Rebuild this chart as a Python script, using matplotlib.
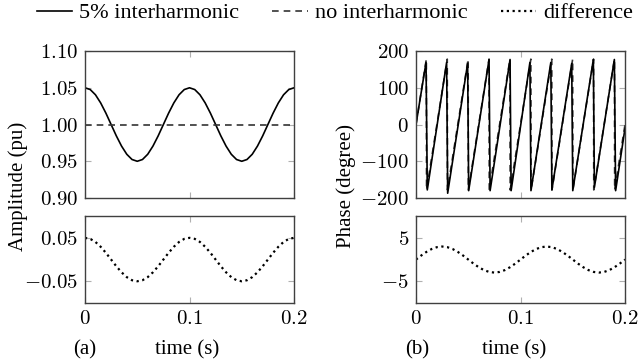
import matplotlib.pyplot as plt
from matplotlib.lines import Line2D
from matplotlib.ticker import FuncFormatter

plt.rcParams['font.family'] = ['Liberation Serif', 'DejaVu Serif']
plt.rcParams['mathtext.fontset'] = 'cm'

# difference curves, sampled every 5 ms
t_diff = [0.000, 0.005, 0.010, 0.015, 0.020, 0.025, 0.030, 0.035, 0.040, 0.045,
          0.050, 0.055, 0.060, 0.065, 0.070, 0.075, 0.080, 0.085, 0.090, 0.095,
          0.100, 0.105, 0.110, 0.115, 0.120, 0.125, 0.130, 0.135, 0.140, 0.145,
          0.150, 0.155, 0.160, 0.165, 0.170, 0.175, 0.180, 0.185, 0.190, 0.195,
          0.200]
amp_diff = [0.050, 0.0476, 0.0405, 0.0294, 0.0155, 0.000, -0.0155, -0.0294, -0.0405, -0.0476,
            -0.050, -0.0476, -0.0405, -0.0294, -0.0155, 0.000, 0.0155, 0.0294, 0.0405, 0.0476,
            0.050, 0.0476, 0.0405, 0.0294, 0.0155, 0.000, -0.0155, -0.0294, -0.0405, -0.0476,
            -0.050, -0.0476, -0.0405, -0.0294, -0.0155, 0.000, 0.0155, 0.0294, 0.0405, 0.0476,
            0.050]
amp_inter = [1.050, 1.0476, 1.0405, 1.0294, 1.0155, 1.000, 0.9845, 0.9706, 0.9595, 0.9524,
             0.950, 0.9524, 0.9595, 0.9706, 0.9845, 1.000, 1.0155, 1.0294, 1.0405, 1.0476,
             1.050, 1.0476, 1.0405, 1.0294, 1.0155, 1.000, 0.9845, 0.9706, 0.9595, 0.9524,
             0.950, 0.9524, 0.9595, 0.9706, 0.9845, 1.000, 1.0155, 1.0294, 1.0405, 1.0476,
             1.050]
t_flat = [0.0, 0.2]
amp_flat = [1.0, 1.0]
phase_diff = [0.0, 0.93, 1.76, 2.43, 2.85, 3.0, 2.85, 2.43, 1.76, 0.93,
              0.0, -0.93, -1.76, -2.43, -2.85, -3.0, -2.85, -2.43, -1.76, -0.93,
              0.0, 0.93, 1.76, 2.43, 2.85, 3.0, 2.85, 2.43, 1.76, 0.93,
              0.0, -0.93, -1.76, -2.43, -2.85, -3.0, -2.85, -2.43, -1.76, -0.93,
              0.0]

# phase sawtooth corners
t_ph = [0.0, 0.0096, 0.0108, 0.0293, 0.0303, 0.0494, 0.0504, 0.0699, 0.0709, 0.0900,
        0.0910, 0.1090, 0.1100, 0.1290, 0.1300, 0.1490, 0.1500, 0.1697, 0.1707, 0.1898,
        0.1910, 0.2]
ph_inter = [0, 169, -178, 169, -187, 166, -180, 177, -180, 177,
            -180, 169, -180, 169, -178, 166, -180, 177, -171, 177,
            -180, -10]
t_ph0 = [0.0, 0.0099, 0.0101, 0.0299, 0.0301, 0.0499, 0.0501, 0.0699, 0.0701, 0.0899,
         0.0901, 0.1099, 0.1101, 0.1299, 0.1301, 0.1499, 0.1501, 0.1699, 0.1701, 0.1899,
         0.1901, 0.2]
ph_none = [0, 178, -178, 178, -178, 178, -178, 178, -178, 178,
           -178, 178, -178, 178, -178, 178, -178, 178, -178, 178,
           -178, 0]

x_ticks = [0, 0.1, 0.2]
x_labels = ['0', '0.1', '0.2']

lw = 1.2
dash = (0, (4, 3))
dots = (0, (1, 1.6))
spine_col = '#404040'
serif = 'Liberation Serif'

fig = plt.figure(figsize=(6.4, 3.62), dpi=100)
ax_a1 = fig.add_axes([0.1328, 0.453, 0.3266, 0.406])
ax_a2 = fig.add_axes([0.1328, 0.163, 0.3266, 0.240])
ax_b1 = fig.add_axes([0.650, 0.453, 0.3266, 0.406])
ax_b2 = fig.add_axes([0.650, 0.163, 0.3266, 0.240])

math_fmt = FuncFormatter(lambda v, p: '$%s$' % ('%g' % v))

ax_a1.plot(t_diff, amp_inter, color='black', lw=lw)
ax_a1.plot(t_flat, amp_flat, color='#333333', lw=lw, linestyle=dash)
ax_a1.set_ylim(0.9, 1.1)
ax_a1.set_yticks([0.90, 0.95, 1.00, 1.05, 1.10])
ax_a1.set_yticklabels(['$0.90$', '$0.95$', '$1.00$', '$1.05$', '$1.10$'])

ax_a2.plot(t_diff, amp_diff, color='black', lw=1.6, linestyle=dots)
ax_a2.set_ylim(-0.1, 0.1)
ax_a2.set_yticks([-0.05, 0.05])
ax_a2.set_yticklabels(['$-0.05$', '$0.05$'])

ax_b1.plot(t_ph0, ph_none, color='#333333', lw=lw, linestyle=dash)
ax_b1.plot(t_ph, ph_inter, color='black', lw=lw)
ax_b1.set_ylim(-200, 200)
ax_b1.set_yticks([-200, -100, 0, 100, 200])
ax_b1.yaxis.set_major_formatter(math_fmt)

ax_b2.plot(t_diff, phase_diff, color='black', lw=1.6, linestyle=dots)
ax_b2.set_ylim(-10, 10)
ax_b2.set_yticks([-5, 5])
ax_b2.yaxis.set_major_formatter(math_fmt)

for ax in [ax_a1, ax_a2, ax_b1, ax_b2]:
    ax.set_xlim(0, 0.2)
    ax.set_xticks(x_ticks)
    ax.tick_params(direction='in', length=4, width=0.8, color='#b0b0b0',
                   top=True, right=True, labelsize=15, pad=5)
    for s in ax.spines.values():
        s.set_color(spine_col)
        s.set_linewidth(1.0)
for ax in [ax_a1, ax_b1]:
    ax.set_xticklabels([])
for ax in [ax_a2, ax_b2]:
    ax.set_xticklabels(['$%s$' % s for s in x_labels])

fig.text(0.028, 0.486, 'Amplitude (pu)', rotation=90, ha='center', va='center',
         fontsize=15, family=serif)
fig.text(0.541, 0.486, 'Phase (degree)', rotation=90, ha='center', va='center',
         fontsize=15, family=serif)
fig.text(0.133, 0.033, '(a)', ha='center', va='center', fontsize=15, family=serif)
fig.text(0.292, 0.033, 'time (s)', ha='center', va='center', fontsize=15, family=serif)
fig.text(0.652, 0.033, '(b)', ha='center', va='center', fontsize=15, family=serif)
fig.text(0.803, 0.033, 'time (s)', ha='center', va='center', fontsize=15, family=serif)

handles = [Line2D([], [], color='black', lw=lw),
           Line2D([], [], color='#333333', lw=lw, linestyle=dash),
           Line2D([], [], color='black', lw=1.6, linestyle=dots)]
fig.legend(handles, ['5% interharmonic', 'no interharmonic', 'difference'],
           loc='center', bbox_to_anchor=(0.523, 0.964), ncol=3, frameon=False,
           prop={'family': serif, 'size': 16}, handlelength=1.6,
           handletextpad=0.3, columnspacing=1.5, borderpad=0, borderaxespad=0)

fig.savefig('out.png', dpi=100)
